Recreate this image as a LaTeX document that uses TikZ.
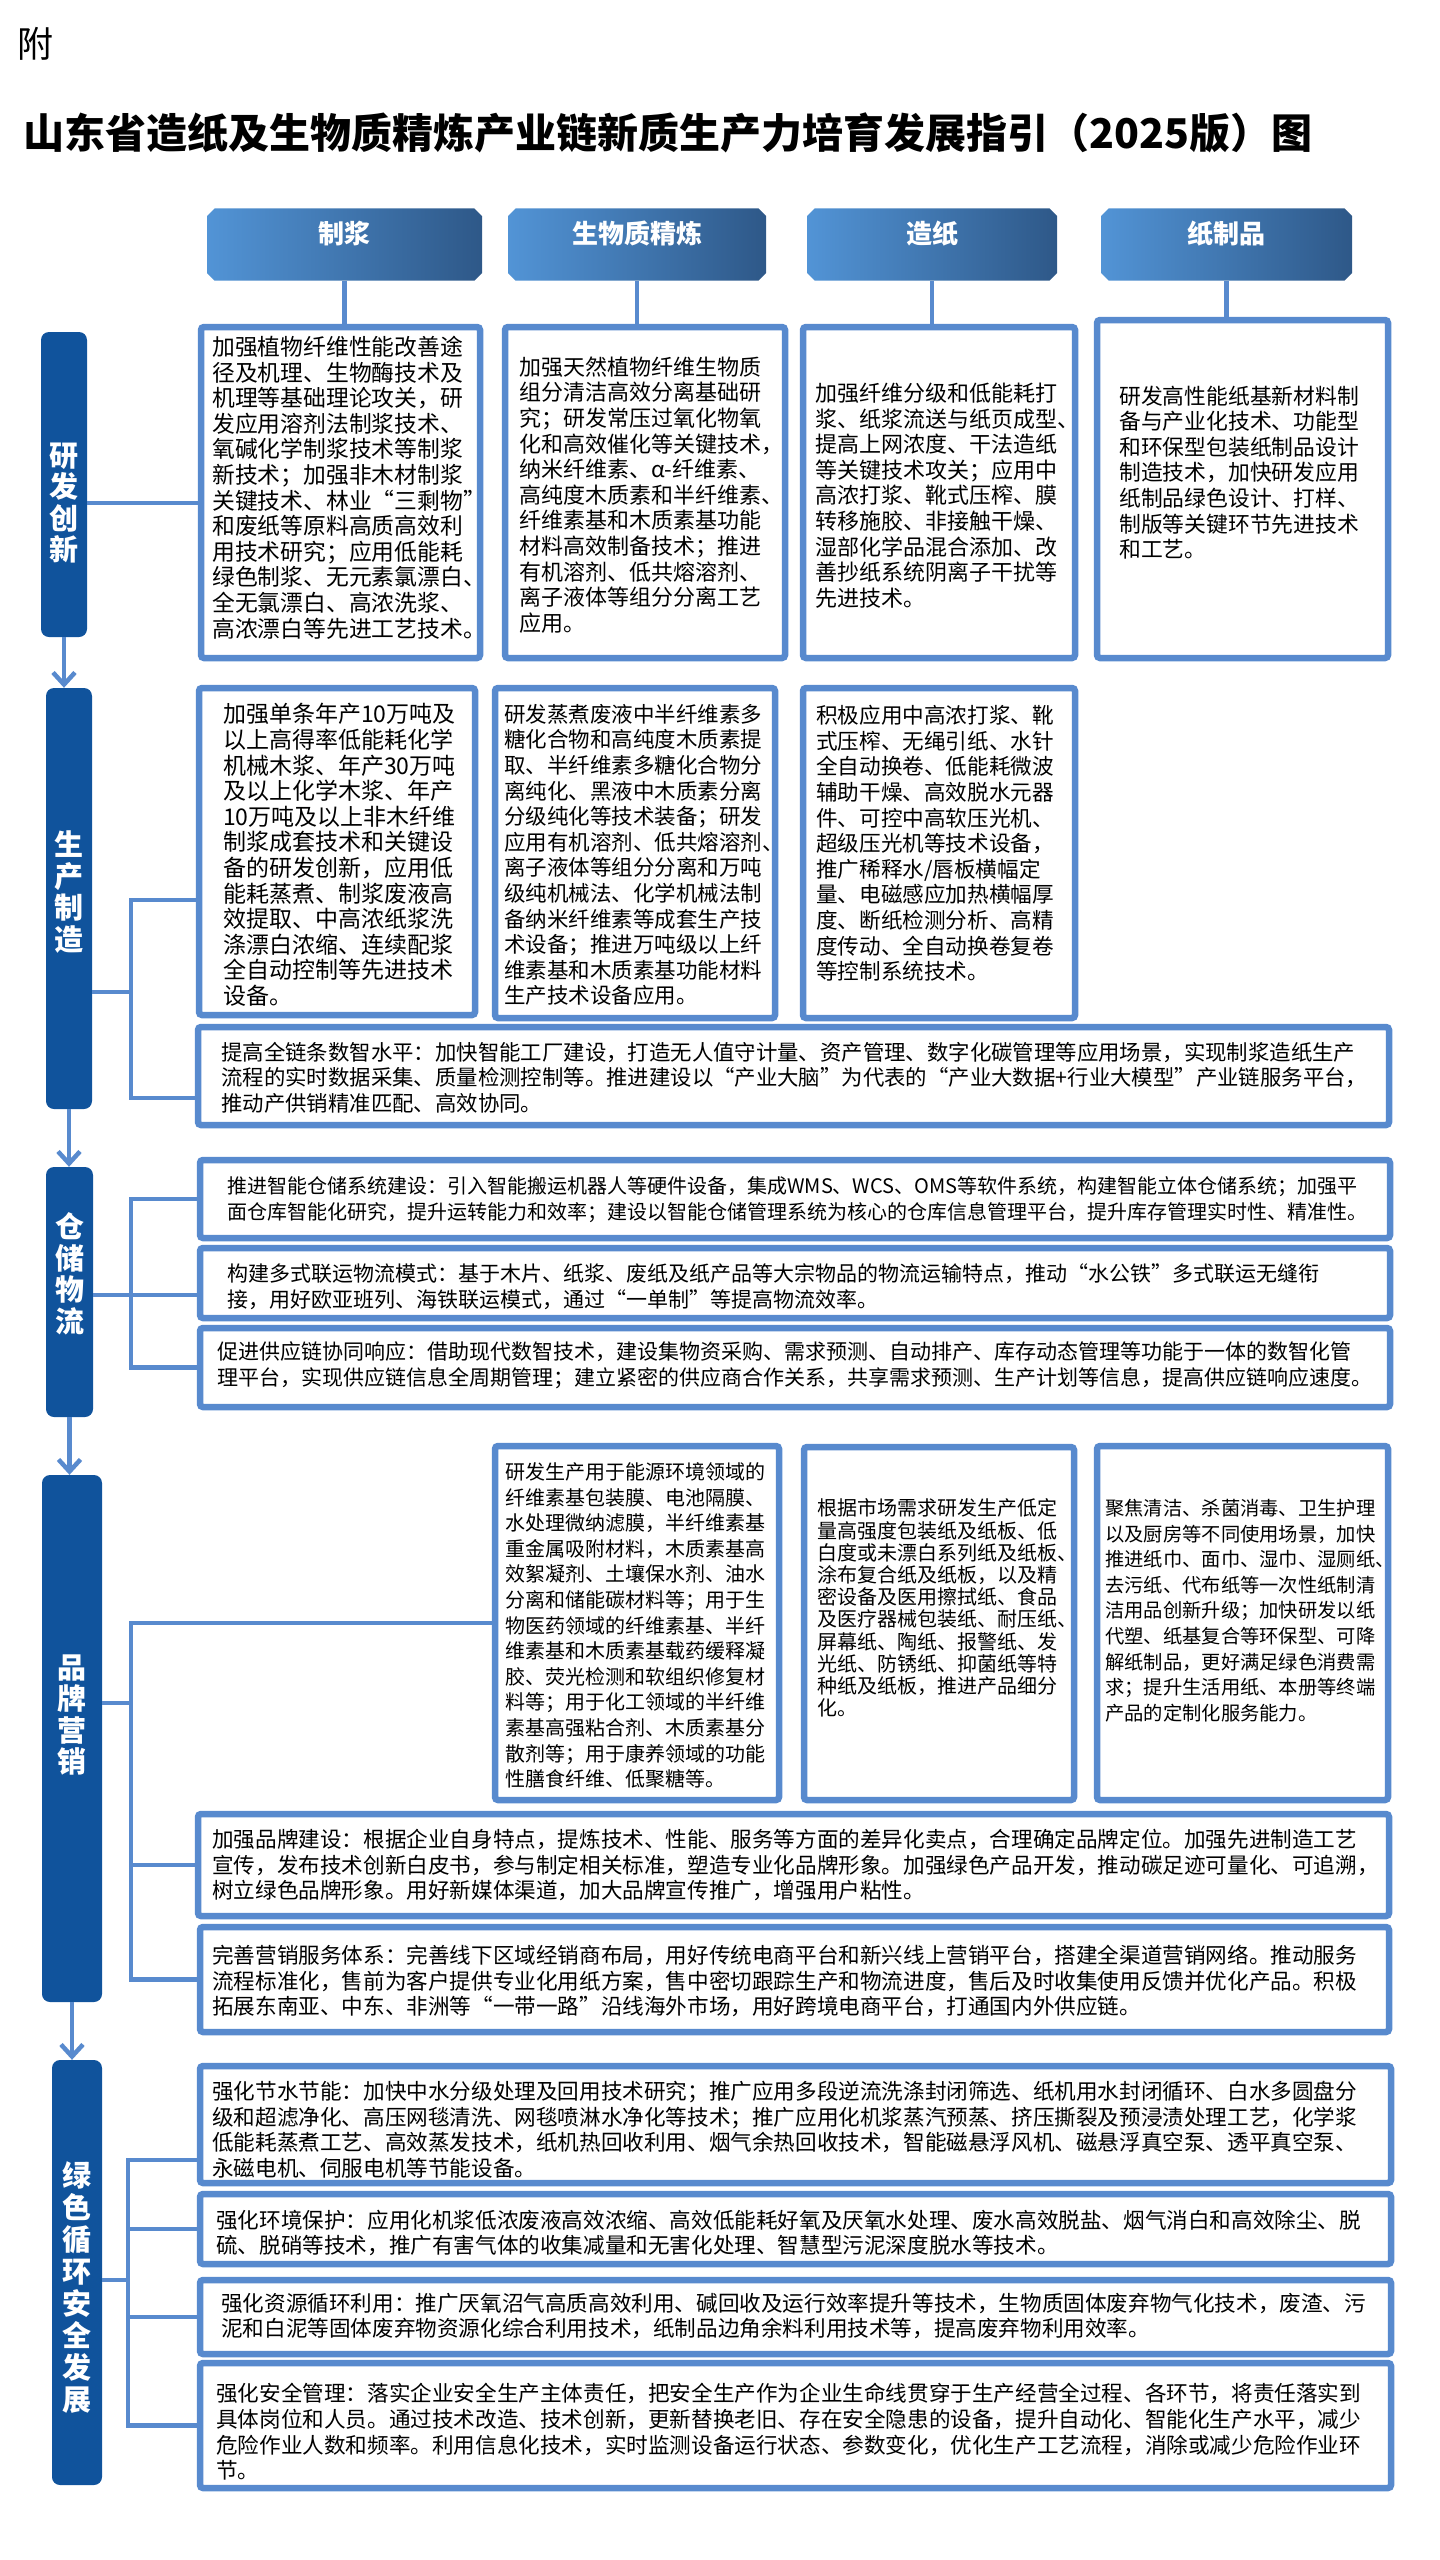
\documentclass[tikz,border=0pt]{standalone}
\usepackage{fontspec}
\setmainfont{Noto Sans CJK SC}
\usetikzlibrary{arrows.meta,fit,shapes.misc}
\definecolor{linkblue}{RGB}{88,138,206}
\definecolor{barblue}{RGB}{16,83,156}
\definecolor{hdleft}{RGB}{82,148,214}
\definecolor{hdright}{RGB}{46,88,136}
\tikzset{
  cell/.style={draw=linkblue, line width=6.5pt, fill=white, rounded corners=3pt, inner sep=0pt},
  txt/.style={anchor=west, align=left, inner sep=0pt, font=\fontsize{#1}{25.6}\selectfont},
  link/.style={draw=linkblue, line width=4.5pt},
  flow/.style={link, -{Straight Barb[length=12pt,width=22pt]}},
  bar/.style={fill=barblue, rounded corners=8pt, inner sep=0pt},
  barlab/.style={text=white, align=center, inner sep=0pt, font=\fontsize{29}{31.5}\selectfont\bfseries},
  head/.style={chamfered rectangle, chamfered rectangle xsep=4pt, inner sep=0pt,
    left color=hdleft, right color=hdright, text=white, font=\fontsize{26}{30}\selectfont\bfseries}
}
\begin{document}
\begin{tikzpicture}[x=1pt,y=-1pt]
\useasboundingbox (0,0) rectangle (1440,2560);
\node[anchor=west, inner sep=0pt, font=\fontsize{36}{40}\selectfont] (fu) at (17,44) {附};
\node[anchor=west, inner sep=0pt, font=\fontsize{41}{45}\selectfont\bfseries] (title) at (23,133) {山东省造纸及生物质精炼产业链新质生产力培育发展指引（2025版）图};

\node[head, fit={(211,212) (478,277)}] (hd1) {制浆};
\node[head, fit={(512,212) (762,277)}] (hd2) {生物质精炼};
\node[head, fit={(811,212) (1053,277)}] (hd3) {造纸};
\node[head, fit={(1105,212) (1348,277)}] (hd4) {纸制品};

\node[bar, fit={(41,332) (87,637)}] (bar1) {};
\node[barlab] (lab1) at (64,503) {研\\发\\创\\新};
\node[bar, fit={(46,688) (92,1109)}] (bar2) {};
\node[barlab] (lab2) at (69,892) {生\\产\\制\\造};
\node[bar, fit={(46,1167) (93,1417)}] (bar3) {};
\node[barlab] (lab3) at (69.5,1274) {仓\\储\\物\\流};
\node[bar, fit={(42,1475) (102,2002)}] (bar4) {};
\node[barlab] (lab4) at (72,1715) {品\\牌\\营\\销};
\node[bar, fit={(52,2060) (102,2485)}] (bar5) {};
\node[barlab, font=\fontsize{29}{32}\selectfont\bfseries] (lab5) at (77,2288) {绿\\色\\循\\环\\安\\全\\发\\展};

\draw[flow] (bar1.south) -- (bar1.south |- bar2.north);
\draw[flow] (bar2.south) -- (bar2.south |- bar3.north);
\draw[flow] (bar3.south) -- (bar3.south |- bar4.north);
\draw[flow] (bar4.south) -- (bar4.south |- bar5.north);

\node[cell, fit={(201,327) (480,658)}] (b11) {};
\node[cell, fit={(505,327) (785,658)}] (b12) {};
\node[cell, fit={(803,327) (1075,658)}] (b13) {};
\node[cell, fit={(1097,320) (1388,658)}] (b14) {};
\node[txt=22.8] (t11) at (212,487.5) {加强植物纤维性能改善途\\径及机理、生物酶技术及\\机理等基础理论攻关，研\\发应用溶剂法制浆技术、\\氧碱化学制浆技术等制浆\\新技术；加强非木材制浆\\关键技术、林业“三剩物”\\和废纸等原料高质高效利\\用技术研究；应用低能耗\\绿色制浆、无元素氯漂白、\\全无氯漂白、高浓洗浆、\\高浓漂白等先进工艺技术。};
\node[txt=22] (t12) at (519,495) {加强天然植物纤维生物质\\组分清洁高效分离基础研\\究；研发常压过氧化物氧\\化和高效催化等关键技术，\\纳米纤维素、α-纤维素、\\高纯度木质素和半纤维素、\\纤维素基和木质素基功能\\材料高效制备技术；推进\\有机溶剂、低共熔溶剂、\\离子液体等组分分离工艺\\应用。};
\node[txt=22] (t13) at (815,495.5) {加强纤维分级和低能耗打\\浆、纸浆流送与纸页成型、\\提高上网浓度、干法造纸\\等关键技术攻关；应用中\\高浓打浆、靴式压榨、膜\\转移施胶、非接触干燥、\\湿部化学品混合添加、改\\善抄纸系统阴离子干扰等\\先进技术。};
\node[txt=21.8] (t14) at (1119,472.5) {研发高性能纸基新材料制\\备与产业化技术、功能型\\和环保型包装纸制品设计\\制造技术，加快研发应用\\纸制品绿色设计、打样、\\制版等关键环节先进技术\\和工艺。};
\draw[link] (hd1.south) -- (hd1.south |- b11.north);
\draw[link] (hd2.south) -- (hd2.south |- b12.north);
\draw[link] (hd3.south) -- (hd3.south |- b13.north);
\draw[link] (hd4.south) -- (hd4.south |- b14.north);
\coordinate (j1) at (150,503);
\draw[link] (bar1.east |- j1) -- (b11.west |- j1);

\node[cell, fit={(199,688) (475,1015)}] (b21) {};
\node[cell, fit={(495,688) (775,1018)}] (b22) {};
\node[cell, fit={(803,688) (1075,1018)}] (b23) {};
\node[cell, fit={(198,1027) (1389,1125)}] (w2) {};
\node[txt=23] (t21) at (223,855) {加强单条年产10万吨及\\以上高得率低能耗化学\\机械木浆、年产30万吨\\及以上化学木浆、年产\\10万吨及以上非木纤维\\制浆成套技术和关键设\\备的研发创新，应用低\\能耗蒸煮、制浆废液高\\效提取、中高浓纸浆洗\\涤漂白浓缩、连续配浆\\全自动控制等先进技术\\设备。};
\node[txt=21.5] (t22) at (504,855) {研发蒸煮废液中半纤维素多\\糖化合物和高纯度木质素提\\取、半纤维素多糖化合物分\\离纯化、黑液中木质素分离\\分级纯化等技术装备；研发\\应用有机溶剂、低共熔溶剂、\\离子液体等组分分离和万吨\\级纯机械法、化学机械法制\\备纳米纤维素等成套生产技\\术设备；推进万吨级以上纤\\维素基和木质素基功能材料\\生产技术设备应用。};
\node[txt=21.6] (t23) at (816,843.5) {积极应用中高浓打浆、靴\\式压榨、无绳引纸、水针\\全自动换卷、低能耗微波\\辅助干燥、高效脱水元器\\件、可控中高软压光机、\\超级压光机等技术设备，\\推广稀释水/唇板横幅定\\量、电磁感应加热横幅厚\\度、断纸检测分析、高精\\度传动、全自动换卷复卷\\等控制系统技术。};
\node[txt=21.4] (tw2) at (221,1077.5) {提高全链条数智水平：加快智能工厂建设，打造无人值守计量、资产管理、数字化碳管理等应用场景，实现制浆造纸生产\\流程的实时数据采集、质量检测控制等。推进建设以“产业大脑”为代表的“产业大数据+行业大模型”产业链服务平台，\\推动产供销精准匹配、高效协同。};
\coordinate (j2) at (131,992);
\coordinate (j2t) at (131,900);
\coordinate (j2b) at (131,1098);
\draw[link] (bar2.east |- j2) -- (j2);
\draw[link] (b21.west |- j2t) -- (j2t) -- (j2b) -- (w2.west |- j2b);

\node[cell, fit={(200,1160) (1390,1238)}] (ca) {};
\node[cell, fit={(200,1248) (1390,1318)}] (cb) {};
\node[cell, fit={(200,1328) (1390,1407)}] (cc) {};
\node[txt=20] (tca) at (227,1199.5) {推进智能仓储系统建设：引入智能搬运机器人等硬件设备，集成WMS、WCS、OMS等软件系统，构建智能立体仓储系统；加强平\\面仓库智能化研究，提升运转能力和效率；建设以智能仓储管理系统为核心的仓库信息管理平台，提升库存管理实时性、精准性。};
\node[txt=21] (tcb) at (227,1286.5) {构建多式联运物流模式：基于木片、纸浆、废纸及纸产品等大宗物品的物流运输特点，推动“水公铁”多式联运无缝衔\\接，用好欧亚班列、海铁联运模式，通过“一单制”等提高物流效率。};
\node[txt=21] (tcc) at (217,1365.5) {促进供应链协同响应：借助现代数智技术，建设集物资采购、需求预测、自动排产、库存动态管理等功能于一体的数智化管\\理平台，实现供应链信息全周期管理；建立紧密的供应商合作关系，共享需求预测、生产计划等信息，提高供应链响应速度。};
\coordinate (j3) at (131,1295);
\draw[link] (bar3.east |- j3) -- (cb.west |- j3);
\draw[link] (ca.west) -| (j3) |- (cc.west);

\node[cell, fit={(495,1446) (779,1800)}] (p2) {};
\node[cell, fit={(804,1447) (1074,1800)}] (p3) {};
\node[cell, fit={(1097,1446) (1388,1800)}] (p4) {};
\node[cell, fit={(198,1814) (1389,1916)}] (m1) {};
\node[cell, fit={(200,1927) (1389,2032)}] (m2) {};
\node[txt=20] (tp2) at (505,1625.5) {研发生产用于能源环境领域的\\纤维素基包装膜、电池隔膜、\\水处理微纳滤膜，半纤维素基\\重金属吸附材料，木质素基高\\效絮凝剂、土壤保水剂、油水\\分离和储能碳材料等；用于生\\物医药领域的纤维素基、半纤\\维素基和木质素基载药缓释凝\\胶、荧光检测和软组织修复材\\料等；用于化工领域的半纤维\\素基高强粘合剂、木质素基分\\散剂等；用于康养领域的功能\\性膳食纤维、低聚糖等。};
\node[txt=20, font=\fontsize{20}{22.2}\selectfont] (tp3) at (817,1608) {根据市场需求研发生产低定\\量高强度包装纸及纸板、低\\白度或未漂白系列纸及纸板、\\涂布复合纸及纸板，以及精\\密设备及医用擦拭纸、食品\\及医疗器械包装纸、耐压纸、\\屏幕纸、陶纸、报警纸、发\\光纸、防锈纸、抑菌纸等特\\种纸及纸板，推进产品细分\\化。};
\node[txt=19.3] (tp4) at (1105,1610.5) {聚焦清洁、杀菌消毒、卫生护理\\以及厨房等不同使用场景，加快\\推进纸巾、面巾、湿巾、湿厕纸、\\去污纸、代布纸等一次性纸制清\\洁用品创新升级；加快研发以纸\\代塑、纸基复合等环保型、可降\\解纸制品，更好满足绿色消费需\\求；提升生活用纸、本册等终端\\产品的定制化服务能力。};
\node[txt=21.6] (tm1) at (212,1865) {加强品牌建设：根据企业自身特点，提炼技术、性能、服务等方面的差异化卖点，合理确定品牌定位。加强先进制造工艺\\宣传，发布技术创新白皮书，参与制定相关标准，塑造专业化品牌形象。加强绿色产品开发，推动碳足迹可量化、可追溯，\\树立绿色品牌形象。用好新媒体渠道，加大品牌宣传推广，增强用户粘性。};
\node[txt=21.6] (tm2) at (212,1981) {完善营销服务体系：完善线下区域经销商布局，用好传统电商平台和新兴线上营销平台，搭建全渠道营销网络。推动服务\\流程标准化，售前为客户提供专业化用纸方案，售中密切跟踪生产和物流进度，售后及时收集使用反馈并优化产品。积极\\拓展东南亚、中东、非洲等“一带一路”沿线海外市场，用好跨境电商平台，打通国内外供应链。};
\coordinate (j4) at (131,1703);
\draw[link] (bar4.east |- j4) -- (j4);
\draw[link] (p2.west) -| (j4) |- (m2.west);
\draw[link] (m1.west -| j4) -- (m1.west);

\node[cell, fit={(200,2066) (1391,2183)}] (g1) {};
\node[cell, fit={(200,2194) (1391,2264)}] (g2) {};
\node[cell, fit={(200,2280) (1391,2354)}] (g3) {};
\node[cell, fit={(200,2363) (1391,2488)}] (g4) {};
\node[txt=21.6] (tg1) at (212,2129.5) {强化节水节能：加快中水分级处理及回用技术研究；推广应用多段逆流洗涤封闭筛选、纸机用水封闭循环、白水多圆盘分\\级和超滤净化、高压网毯清洗、网毯喷淋水净化等技术；推广应用化机浆蒸汽预蒸、挤压撕裂及预浸渍处理工艺，化学浆\\低能耗蒸煮工艺、高效蒸发技术，纸机热回收利用、烟气余热回收技术，智能磁悬浮风机、磁悬浮真空泵、透平真空泵、\\永磁电机、伺服电机等节能设备。};
\node[txt=21.6] (tg2) at (216,2233) {强化环境保护：应用化机浆低浓废液高效浓缩、高效低能耗好氧及厌氧水处理、废水高效脱盐、烟气消白和高效除尘、脱\\硫、脱硝等技术，推广有害气体的收集减量和无害化处理、智慧型污泥深度脱水等技术。};
\node[txt=21.6] (tg3) at (221,2316) {强化资源循环利用：推广厌氧沼气高质高效利用、碱回收及运行效率提升等技术，生物质固体废弃物气化技术，废渣、污\\泥和白泥等固体废弃物资源化综合利用技术，纸制品边角余料利用技术等，提高废弃物利用效率。};
\node[txt=21.6] (tg4) at (216,2432) {强化安全管理：落实企业安全生产主体责任，把安全生产作为企业生命线贯穿于生产经营全过程、各环节，将责任落实到\\具体岗位和人员。通过技术改造、技术创新，更新替换老旧、存在安全隐患的设备，提升自动化、智能化生产水平，减少\\危险作业人数和频率。利用信息化技术，实时监测设备运行状态、参数变化，优化生产工艺流程，消除或减少危险作业环\\节。};
\coordinate (j5) at (128,2280);
\coordinate (j5t) at (128,2160);
\draw[link] (bar5.east |- j5) -- (j5);
\draw[link] (g1.west |- j5t) -- (j5t) |- (g4.west);
\draw[link] (g2.west -| j5) -- (g2.west);
\draw[link] (g3.west -| j5) -- (g3.west);
\end{tikzpicture}
\end{document}
